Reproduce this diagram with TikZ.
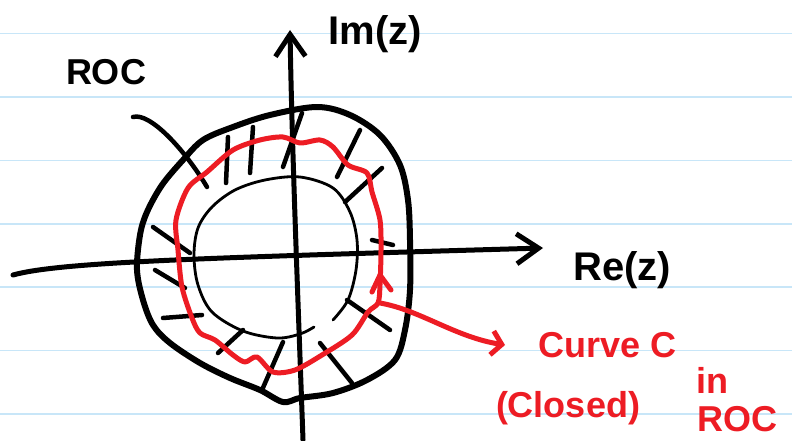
\documentclass[tikz,border=0pt]{standalone}
\usepackage{fontspec}
\setmainfont{Liberation Sans}
\usepackage{xcolor}
\usetikzlibrary{arrows.meta, calc}
\definecolor{ruleblue}{RGB}{200,230,248}
\definecolor{penred}{RGB}{237,28,36}

\begin{document}
\begin{tikzpicture}[x=1pt, y=-1pt, line cap=round, line join=round]
        \tikzstyle{ink} = [draw=black, line width=5pt]
        \tikzstyle{thinink} = [draw=black, line width=2.8pt]
        \tikzstyle{redink} = [draw=penred, line width=5pt]
        \tikzstyle{hand} = [font=\bfseries\fontsize{36}{40}\selectfont, inner sep=0pt]
        \tikzstyle{barb} = [-{Straight Barb[length=22pt, width=30pt]}]

        \useasboundingbox (0,0) rectangle (792,441);
        \fill[white] (0,0) rectangle (792,441);

        % ruled paper
        \foreach \y in {33.5, 97, 160.3, 223.7, 287, 350.3, 413.7}
            \draw[ruleblue, line width=1.6pt] (0,\y) -- (792,\y);

        % axes
        \coordinate (xstart) at (13,275);
        \coordinate (xend) at (543,248);
        \coordinate (ystart) at (303,440);
        \coordinate (yend) at (290,30);
        \draw[ink, barb] (xstart) .. controls (60,262) and (200,258) .. (xend);
        \draw[ink, barb] (ystart) .. controls (298,300) and (292,150) .. (yend);

        % outer boundary of the ROC
        \draw[ink, line width=6pt] plot[smooth cycle, tension=0.55] coordinates {
            (317,107) (350,115) (380,135) (400,165) (408,200) (410,240) (410,290)
            (405,330) (395,360) (367,380) (333,393) (300,398) (283,402) (260,390)
            (230,378) (200,363) (170,343) (153,325) (143,300) (137,270) (140,235)
            (147,212) (162,185) (183,160) (203,140) (233,127) (270,115)};

        % inner boundary of the ROC
        \draw[thinink] plot[smooth, tension=0.55] coordinates {
            (333,320) (348,300) (356,270) (357,240) (350,212) (333,188) (300,177)
            (265,180) (235,190) (212,207) (198,228) (194,255) (198,285) (212,312)
            (243,331) (277,338) (300,334) (314,327)};

        % hatching
        \foreach \xa/\ya/\xb/\yb in {228/137/226/183, 253/127/250/173, 302/113/283/167,
                360/130/337/177, 382/168/345/202, 153/227/190/253, 155/270/185/288,
                163/318/202/315, 218/353/243/330, 262/390/283/342, 320/343/352/383,
                347/300/390/330, 372/240/393/245}
            \draw[ink, line width=4.5pt] (\xa,\ya) -- (\xb,\yb);
        \draw[ink, line width=4.5pt] (133,117) .. controls (150,112) and (185,150) .. (207,187);

        % closed curve C
        \draw[redink] plot[smooth cycle, tension=0.5] coordinates {
            (283,137) (300,143) (320,140) (333,147) (348,165) (367,173) (372,192)
            (380,220) (381,250) (380,285) (378,303) (368,312) (352,335) (322,355)
            (295,370) (273,372) (257,357) (245,362) (233,355) (215,340) (200,333)
            (192,318) (182,287) (178,250) (176,220) (188,188) (207,172) (233,150)
            (260,140)};
        \draw[redink] (372,292) -- (380,275) -- (391,290);

        % labels
        \node[hand] (roc) at (106,72) {ROC};
        \node[hand, font=\bfseries\fontsize{40}{44}\selectfont] (imlbl) at (375,34) {Im(z)};
        \node[hand, font=\bfseries\fontsize{40}{44}\selectfont] (relbl) at (622,270) {Re(z)};
        \node[hand, text=penred, anchor=west] (curvelbl) at (538,345) {Curve C};
        \node[hand, text=penred] (closedlbl) at (568,408) {(Closed)};
        \node[hand, text=penred] (inlbl) at (712,380) {in};
        \node[hand, text=penred] (roclbl) at (737,419) {ROC};

        \coordinate (cjoin) at (380,303);
        \draw[redink, -{Straight Barb[length=10pt, width=24pt]}]
            (cjoin) .. controls (420,310) and (455,337) .. ([xshift=-33pt]curvelbl.west);
\end{tikzpicture}
\end{document}
